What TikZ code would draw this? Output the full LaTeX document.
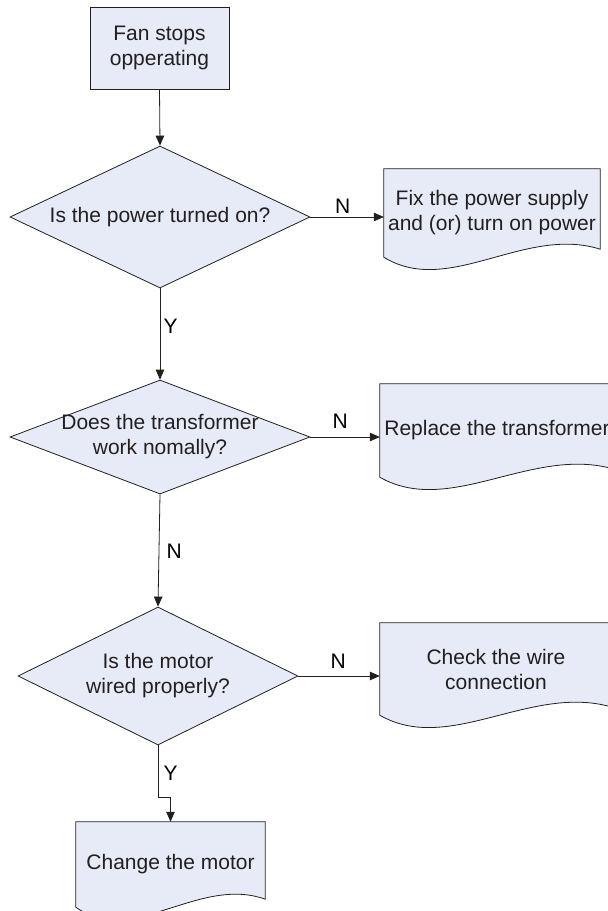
\documentclass[tikz,border=0pt]{standalone}
\usepackage{fontspec}
\setmainfont{Liberation Sans}
\usepackage{xcolor}
\usetikzlibrary{arrows.meta,calc,shapes.geometric,backgrounds}

\definecolor{inkgray}{RGB}{35,31,32}
\definecolor{boxfill}{RGB}{230,235,247}

\begin{document}
\begin{tikzpicture}[x=1pt,y=-1pt,font=\fontsize{21}{25}\selectfont,>={Triangle[length=10pt,width=8.5pt]},
  process/.style={draw=inkgray,fill=boxfill,line width=0.8pt,align=center,text=inkgray},
  decision/.style={diamond,draw=inkgray,fill=boxfill,line width=0.8pt,inner sep=0pt},
  qtext/.style={align=center,text=inkgray},
  doctext/.style={align=center,text=inkgray,inner sep=0pt},
  docline/.style={draw=inkgray,fill=boxfill,line width=0.8pt},
  flow/.style={->,draw=inkgray,line width=0.8pt},
  answer/.style={text=black}]

\path[use as bounding box,clip] (0,0) rectangle (608,911);

% =========================================================
% Main column
% =========================================================
\node[process, minimum width=139, minimum height=82] (start) at (159.5,48)
{Fan stops\\opperating};

\node[decision, minimum width=300, minimum height=142,
  label={[qtext]center:Is the power turned on?}] (power) at (160,217) {};

\node[decision, minimum width=300, minimum height=114,
  label={[qtext]center:Does the transformer\\work nomally?}] (transf) at (160,437) {};

\node[decision, minimum width=280, minimum height=138,
  label={[qtext]center:Is the motor\\wired properly?}] (motor) at (158,676) {};

% =========================================================
% Document boxes
% =========================================================
\node[doctext, minimum width=216, minimum height=88] (fixpower) at (492,213)
{Fix the power supply\\and (or) turn on power};

\node[doctext, minimum width=234, minimum height=93] (replace) at (497,430.5)
{Replace the transformer};

\node[doctext, minimum width=232, minimum height=92] (wire) at (496,669)
{Check the wire\\connection};

\node[doctext, minimum width=189, minimum height=85] (change) at (170.5,864.5)
{Change the motor};

% outlines with the wavy bottom edge
\begin{scope}[on background layer]
\foreach \d/\w in {fixpower/216,replace/234,wire/232,change/189} {
  \path[docline] (\d.north west) -- (\d.north east) -- ($(\d.south east)+(0,-8)$)
    .. controls +({-0.35*\w},-24) and +({0.3*\w},40) .. (\d.south west) -- cycle;
}
\end{scope}

% =========================================================
% Connectors
% =========================================================
\draw[flow] (start.south) -- (power.north);
\draw[flow] (power.east) -- node[answer, above, pos=0.44] {N} (fixpower.west |- power.east);
\draw[flow] (power.south) -- node[answer, right, pos=0.42] {Y} (transf.north);
\draw[flow] (transf.east) -- node[answer, above=5pt, pos=0.43] {N} (replace.west |- transf.east);
\draw[flow] (transf.south) -- node[answer, right=4pt, pos=0.51] {N} (motor.north);
\draw[flow] (motor.east) -- node[answer, above=4pt, pos=0.49] {N} (wire.west |- motor.east);
\draw[flow] (motor.south) -- ++(0,52) node[answer, right=2pt, pos=0.54] {Y} -| (change.north);

\end{tikzpicture}
\end{document}
